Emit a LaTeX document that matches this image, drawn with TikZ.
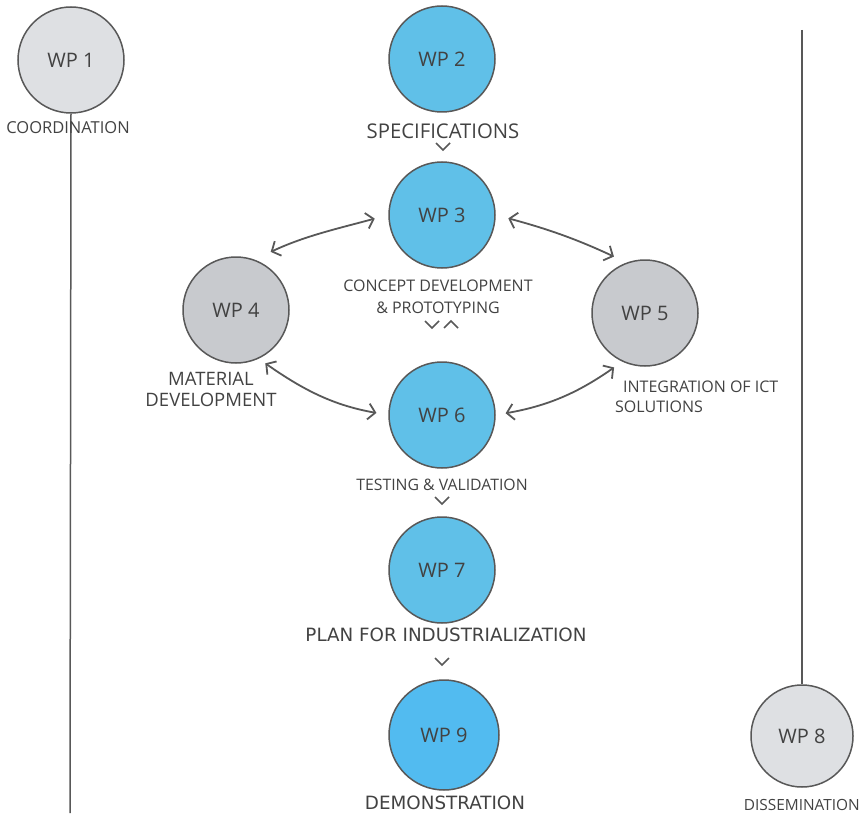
\documentclass[tikz,border=0pt]{standalone}
\usepackage{fontspec}
\setmainfont{Open Sans}
\newfontfamily\widefont{DejaVu Sans}
\usetikzlibrary{arrows.meta}
\definecolor{wpblue}{RGB}{96,192,232}
\definecolor{wpbright}{RGB}{82,187,240}
\definecolor{wpgray}{RGB}{200,202,206}
\definecolor{wplight}{RGB}{222,224,227}
\definecolor{rim}{RGB}{88,88,88}
\definecolor{ink}{RGB}{66,66,66}
\begin{document}
\begin{tikzpicture}[x=1pt,y=1pt,
  wp/.style={circle,draw=rim,line width=1.5pt,minimum size=106pt,inner sep=0pt,
    text=ink,font=\fontsize{20}{22}\selectfont},
  tag/.style={text=ink,font=\fontsize{15.8}{21}\selectfont,inner sep=0pt,align=center},
  widetag/.style={tag,font=\widefont\fontsize{18.3}{20}\selectfont},
  link/.style={draw=rim,line width=1.8pt,
    {Straight Barb[length=7pt,width=16pt]}-{Straight Barb[length=7pt,width=16pt]}},
  chev/.style={draw=rim,line width=1.5pt},
  rule/.style={draw=rim,line width=1.5pt}]
  \useasboundingbox (0,0) rectangle (861,-813);

  % 工作包
  \node[wp,fill=wplight] (wp1) at (71,-60) {WP 1};
  \node[wp,fill=wpblue] (wp2) at (442,-59) {WP 2};
  \node[wp,fill=wpblue] (wp3) at (442,-215) {WP 3};
  \node[wp,fill=wpgray] (wp4) at (236,-310) {WP 4};
  \node[wp,fill=wpgray] (wp5) at (645,-313) {WP 5};
  \node[wp,fill=wpblue] (wp6) at (442,-415) {WP 6};
  \node[wp,fill=wpblue] (wp7) at (442,-570) {WP 7};
  \node[wp,fill=wpbright,minimum size=110pt] (wp9) at (444,-735) {WP 9};
  \node[wp,fill=wplight,minimum size=102pt] (wp8) at (802,-736) {WP 8};

  % 竖线
  \coordinate (foot1) at (70,-813);
  \coordinate (top8) at (802,-30);
  \draw[rule] (wp1.south) -- (foot1);
  \draw[rule] (top8) -- (wp8.north);

  % 标签
  \node[tag,font=\fontsize{16.5}{20}\selectfont] (coord) at (68,-128) {COORDINATION};
  \node[tag,font=\fontsize{20.3}{22}\selectfont] (spec) at (443,-131) {SPECIFICATIONS};
  \node[tag,font=\fontsize{16}{22}\selectfont] (concept) at (438,-297) {CONCEPT DEVELOPMENT\\\& PROTOTYPING};
  \node[tag,font=\fontsize{18.5}{21}\selectfont] (material) at (211,-389) {MATERIAL\\DEVELOPMENT};
  \node[tag,anchor=west,align=left,font=\fontsize{16}{20}\selectfont] (integr) at (615,-397) {\hspace*{8pt}INTEGRATION OF ICT\\SOLUTIONS};
  \node[tag] (testing) at (442,-485) {TESTING \& VALIDATION};
  \node[widetag] (plan) at (446,-635) {PLAN FOR INDUSTRIALIZATION};
  \node[widetag] (demo) at (445,-803) {DEMONSTRATION};
  \node[tag,anchor=east,font=\fontsize{15.4}{18}\selectfont] (dissem) at (860,-805) {DISSEMINATION};

  % 小箭头
  \draw[chev] (436,-143) -- (443,-150) -- (450,-143);
  \draw[chev] (425,-321) -- (432,-328) -- (439,-321);
  \draw[chev] (444,-328) -- (451,-321) -- (458,-328);
  \draw[chev] (435,-497) -- (442,-504) -- (449,-497);
  \draw[chev] (435,-658) -- (442,-665) -- (449,-658);

  % 双向箭头
  \draw[link,shorten <=18pt,shorten >=14pt] (wp4.70) to[out=25,in=195] (wp3.west);
  \draw[link,shorten <=13pt,shorten >=14pt] (wp3.east) to[out=-15,in=155] (wp5.110);
  \draw[link,shorten <=8pt,shorten >=12pt] (wp4.-65) to[out=-35,in=170] (wp6.west);
  \draw[link,shorten <=10pt,shorten >=10pt] (wp6.east) to[out=10,in=215] (wp5.245);
\end{tikzpicture}
\end{document}
